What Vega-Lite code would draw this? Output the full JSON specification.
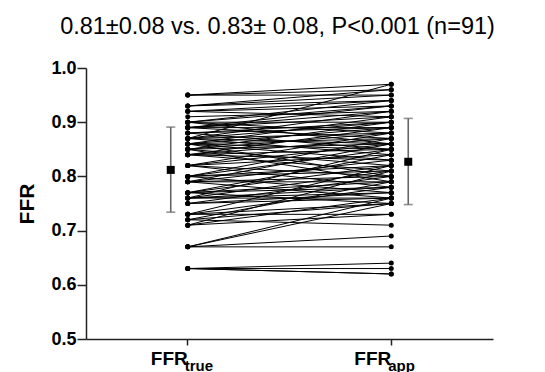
{
  "$schema": "https://vega.github.io/schema/vega-lite/v6.json",
  "autosize": {"type": "none"},
  "width": 407,
  "height": 271,
  "padding": {"left": 86, "top": 68, "right": 52, "bottom": 33},
  "config": {"font": "Liberation Sans", "view": {"stroke": null}},
  "title": {"text": "0.81±0.08 vs. 0.83± 0.08, P<0.001 (n=91)", "fontSize": 23.5, "fontWeight": "normal", "font": "Liberation Sans", "color": "black", "anchor": "middle", "dx": -12, "offset": 21},
  "datasets": {
    "pairs": [
      {"id":1,"group":"FFR_true","ffr":0.95},{"id":1,"group":"FFR_app","ffr":0.97},
      {"id":2,"group":"FFR_true","ffr":0.95},{"id":2,"group":"FFR_app","ffr":0.96},
      {"id":3,"group":"FFR_true","ffr":0.95},{"id":3,"group":"FFR_app","ffr":0.95},
      {"id":4,"group":"FFR_true","ffr":0.93},{"id":4,"group":"FFR_app","ffr":0.95},
      {"id":5,"group":"FFR_true","ffr":0.93},{"id":5,"group":"FFR_app","ffr":0.94},
      {"id":6,"group":"FFR_true","ffr":0.93},{"id":6,"group":"FFR_app","ffr":0.96},
      {"id":7,"group":"FFR_true","ffr":0.92},{"id":7,"group":"FFR_app","ffr":0.93},
      {"id":8,"group":"FFR_true","ffr":0.92},{"id":8,"group":"FFR_app","ffr":0.94},
      {"id":9,"group":"FFR_true","ffr":0.92},{"id":9,"group":"FFR_app","ffr":0.91},
      {"id":10,"group":"FFR_true","ffr":0.91},{"id":10,"group":"FFR_app","ffr":0.92},
      {"id":11,"group":"FFR_true","ffr":0.90},{"id":11,"group":"FFR_app","ffr":0.94},
      {"id":12,"group":"FFR_true","ffr":0.90},{"id":12,"group":"FFR_app","ffr":0.90},
      {"id":13,"group":"FFR_true","ffr":0.90},{"id":13,"group":"FFR_app","ffr":0.88},
      {"id":14,"group":"FFR_true","ffr":0.90},{"id":14,"group":"FFR_app","ffr":0.93},
      {"id":15,"group":"FFR_true","ffr":0.90},{"id":15,"group":"FFR_app","ffr":0.86},
      {"id":16,"group":"FFR_true","ffr":0.89},{"id":16,"group":"FFR_app","ffr":0.91},
      {"id":17,"group":"FFR_true","ffr":0.89},{"id":17,"group":"FFR_app","ffr":0.89},
      {"id":18,"group":"FFR_true","ffr":0.89},{"id":18,"group":"FFR_app","ffr":0.93},
      {"id":19,"group":"FFR_true","ffr":0.89},{"id":19,"group":"FFR_app","ffr":0.87},
      {"id":20,"group":"FFR_true","ffr":0.89},{"id":20,"group":"FFR_app","ffr":0.92},
      {"id":21,"group":"FFR_true","ffr":0.88},{"id":21,"group":"FFR_app","ffr":0.90},
      {"id":22,"group":"FFR_true","ffr":0.88},{"id":22,"group":"FFR_app","ffr":0.85},
      {"id":23,"group":"FFR_true","ffr":0.88},{"id":23,"group":"FFR_app","ffr":0.89},
      {"id":24,"group":"FFR_true","ffr":0.87},{"id":24,"group":"FFR_app","ffr":0.88},
      {"id":25,"group":"FFR_true","ffr":0.87},{"id":25,"group":"FFR_app","ffr":0.92},
      {"id":26,"group":"FFR_true","ffr":0.87},{"id":26,"group":"FFR_app","ffr":0.84},
      {"id":27,"group":"FFR_true","ffr":0.87},{"id":27,"group":"FFR_app","ffr":0.86},
      {"id":28,"group":"FFR_true","ffr":0.87},{"id":28,"group":"FFR_app","ffr":0.90},
      {"id":29,"group":"FFR_true","ffr":0.87},{"id":29,"group":"FFR_app","ffr":0.97},
      {"id":30,"group":"FFR_true","ffr":0.86},{"id":30,"group":"FFR_app","ffr":0.87},
      {"id":31,"group":"FFR_true","ffr":0.86},{"id":31,"group":"FFR_app","ffr":0.89},
      {"id":32,"group":"FFR_true","ffr":0.86},{"id":32,"group":"FFR_app","ffr":0.83},
      {"id":33,"group":"FFR_true","ffr":0.86},{"id":33,"group":"FFR_app","ffr":0.91},
      {"id":34,"group":"FFR_true","ffr":0.86},{"id":34,"group":"FFR_app","ffr":0.85},
      {"id":35,"group":"FFR_true","ffr":0.86},{"id":35,"group":"FFR_app","ffr":0.80},
      {"id":36,"group":"FFR_true","ffr":0.85},{"id":36,"group":"FFR_app","ffr":0.86},
      {"id":37,"group":"FFR_true","ffr":0.85},{"id":37,"group":"FFR_app","ffr":0.88},
      {"id":38,"group":"FFR_true","ffr":0.85},{"id":38,"group":"FFR_app","ffr":0.82},
      {"id":39,"group":"FFR_true","ffr":0.85},{"id":39,"group":"FFR_app","ffr":0.90},
      {"id":40,"group":"FFR_true","ffr":0.85},{"id":40,"group":"FFR_app","ffr":0.79},
      {"id":41,"group":"FFR_true","ffr":0.84},{"id":41,"group":"FFR_app","ffr":0.85},
      {"id":42,"group":"FFR_true","ffr":0.84},{"id":42,"group":"FFR_app","ffr":0.87},
      {"id":43,"group":"FFR_true","ffr":0.84},{"id":43,"group":"FFR_app","ffr":0.81},
      {"id":44,"group":"FFR_true","ffr":0.84},{"id":44,"group":"FFR_app","ffr":0.89},
      {"id":45,"group":"FFR_true","ffr":0.84},{"id":45,"group":"FFR_app","ffr":0.83},
      {"id":46,"group":"FFR_true","ffr":0.82},{"id":46,"group":"FFR_app","ffr":0.84},
      {"id":47,"group":"FFR_true","ffr":0.82},{"id":47,"group":"FFR_app","ffr":0.86},
      {"id":48,"group":"FFR_true","ffr":0.82},{"id":48,"group":"FFR_app","ffr":0.80},
      {"id":49,"group":"FFR_true","ffr":0.82},{"id":49,"group":"FFR_app","ffr":0.88},
      {"id":50,"group":"FFR_true","ffr":0.82},{"id":50,"group":"FFR_app","ffr":0.78},
      {"id":51,"group":"FFR_true","ffr":0.80},{"id":51,"group":"FFR_app","ffr":0.82},
      {"id":52,"group":"FFR_true","ffr":0.80},{"id":52,"group":"FFR_app","ffr":0.85},
      {"id":53,"group":"FFR_true","ffr":0.80},{"id":53,"group":"FFR_app","ffr":0.77},
      {"id":54,"group":"FFR_true","ffr":0.80},{"id":54,"group":"FFR_app","ffr":0.87},
      {"id":55,"group":"FFR_true","ffr":0.80},{"id":55,"group":"FFR_app","ffr":0.81},
      {"id":56,"group":"FFR_true","ffr":0.79},{"id":56,"group":"FFR_app","ffr":0.80},
      {"id":57,"group":"FFR_true","ffr":0.79},{"id":57,"group":"FFR_app","ffr":0.83},
      {"id":58,"group":"FFR_true","ffr":0.79},{"id":58,"group":"FFR_app","ffr":0.76},
      {"id":59,"group":"FFR_true","ffr":0.79},{"id":59,"group":"FFR_app","ffr":0.86},
      {"id":60,"group":"FFR_true","ffr":0.79},{"id":60,"group":"FFR_app","ffr":0.79},
      {"id":61,"group":"FFR_true","ffr":0.77},{"id":61,"group":"FFR_app","ffr":0.79},
      {"id":62,"group":"FFR_true","ffr":0.77},{"id":62,"group":"FFR_app","ffr":0.82},
      {"id":63,"group":"FFR_true","ffr":0.77},{"id":63,"group":"FFR_app","ffr":0.75},
      {"id":64,"group":"FFR_true","ffr":0.77},{"id":64,"group":"FFR_app","ffr":0.84},
      {"id":65,"group":"FFR_true","ffr":0.77},{"id":65,"group":"FFR_app","ffr":0.78},
      {"id":66,"group":"FFR_true","ffr":0.76},{"id":66,"group":"FFR_app","ffr":0.77},
      {"id":67,"group":"FFR_true","ffr":0.76},{"id":67,"group":"FFR_app","ffr":0.81},
      {"id":68,"group":"FFR_true","ffr":0.76},{"id":68,"group":"FFR_app","ffr":0.78},
      {"id":69,"group":"FFR_true","ffr":0.76},{"id":69,"group":"FFR_app","ffr":0.85},
      {"id":70,"group":"FFR_true","ffr":0.76},{"id":70,"group":"FFR_app","ffr":0.76},
      {"id":71,"group":"FFR_true","ffr":0.75},{"id":71,"group":"FFR_app","ffr":0.76},
      {"id":72,"group":"FFR_true","ffr":0.75},{"id":72,"group":"FFR_app","ffr":0.80},
      {"id":73,"group":"FFR_true","ffr":0.75},{"id":73,"group":"FFR_app","ffr":0.77},
      {"id":74,"group":"FFR_true","ffr":0.73},{"id":74,"group":"FFR_app","ffr":0.75},
      {"id":75,"group":"FFR_true","ffr":0.73},{"id":75,"group":"FFR_app","ffr":0.73},
      {"id":76,"group":"FFR_true","ffr":0.73},{"id":76,"group":"FFR_app","ffr":0.78},
      {"id":77,"group":"FFR_true","ffr":0.73},{"id":77,"group":"FFR_app","ffr":0.82},
      {"id":78,"group":"FFR_true","ffr":0.72},{"id":78,"group":"FFR_app","ffr":0.75},
      {"id":79,"group":"FFR_true","ffr":0.72},{"id":79,"group":"FFR_app","ffr":0.71},
      {"id":80,"group":"FFR_true","ffr":0.72},{"id":80,"group":"FFR_app","ffr":0.79},
      {"id":81,"group":"FFR_true","ffr":0.71},{"id":81,"group":"FFR_app","ffr":0.73},
      {"id":82,"group":"FFR_true","ffr":0.71},{"id":82,"group":"FFR_app","ffr":0.76},
      {"id":83,"group":"FFR_true","ffr":0.71},{"id":83,"group":"FFR_app","ffr":0.81},
      {"id":84,"group":"FFR_true","ffr":0.67},{"id":84,"group":"FFR_app","ffr":0.67},
      {"id":85,"group":"FFR_true","ffr":0.67},{"id":85,"group":"FFR_app","ffr":0.69},
      {"id":86,"group":"FFR_true","ffr":0.67},{"id":86,"group":"FFR_app","ffr":0.75},
      {"id":87,"group":"FFR_true","ffr":0.67},{"id":87,"group":"FFR_app","ffr":0.76},
      {"id":88,"group":"FFR_true","ffr":0.63},{"id":88,"group":"FFR_app","ffr":0.64},
      {"id":89,"group":"FFR_true","ffr":0.63},{"id":89,"group":"FFR_app","ffr":0.63},
      {"id":90,"group":"FFR_true","ffr":0.63},{"id":90,"group":"FFR_app","ffr":0.62},
      {"id":91,"group":"FFR_true","ffr":0.63},{"id":91,"group":"FFR_app","ffr":0.62}
    ],
    "summary": [
      {"group":"FFR_true","mean":0.812,"lo":0.734,"hi":0.891},
      {"group":"FFR_app","mean":0.827,"lo":0.748,"hi":0.907}
    ],
    "subs": [
      {"group":"FFR_true","sub":"true"},
      {"group":"FFR_app","sub":"app"}
    ]
  },
  "encoding": {
    "x": {"field": "group", "type": "nominal", "sort": ["FFR_true", "FFR_app"],
      "scale": {"domain": ["FFR_true", "FFR_app"]},
      "axis": {"title": null, "labelExpr": "'FFR'", "labelAngle": 0, "labelAlign": "right", "labelDx": -5,
        "labelFontSize": 19, "labelFontWeight": "bold", "labelColor": "black", "labelPadding": 4,
        "tickSize": 6, "tickColor": "#222", "tickWidth": 1.5, "domainColor": "#222", "domainWidth": 1.5}}
  },
  "layer": [
    {
      "data": {"name": "pairs"},
      "mark": {"type": "line", "color": "black", "strokeWidth": 1},
      "encoding": {
        "y": {"field": "ffr", "type": "quantitative",
          "scale": {"domain": [0.5, 1.0], "nice": false, "zero": false},
          "axis": {"title": "FFR", "titleFontSize": 21, "titleFontWeight": "bold", "titleColor": "black", "titlePadding": 13,
            "values": [0.5, 0.55, 0.6, 0.65, 0.7, 0.75, 0.8, 0.85, 0.9, 0.95, 1.0],
            "labelExpr": "abs(datum.value*10 - round(datum.value*10)) < 0.001 ? format(datum.value, '.1f') : ''",
            "labelFontSize": 18, "labelFontWeight": "bold", "labelColor": "black", "labelPadding": 1,
            "tickSize": {"condition": {"test": "abs(datum.value*10 - round(datum.value*10)) < 0.001", "value": 9}, "value": 5},
            "tickColor": "#222", "tickWidth": 1.5, "domainColor": "#222", "domainWidth": 1.5, "grid": false}},
        "detail": {"field": "id", "type": "nominal"}
      }
    },
    {
      "data": {"name": "pairs"},
      "mark": {"type": "circle", "color": "black", "size": 25, "opacity": 1},
      "encoding": {"y": {"field": "ffr", "type": "quantitative"}}
    },
    {
      "data": {"name": "summary"},
      "transform": [{"filter": "datum.group === 'FFR_true'"}],
      "layer": [
        {"mark": {"type": "rule", "color": "#666", "strokeWidth": 1.6, "xOffset": -17},
         "encoding": {"y": {"field": "lo", "type": "quantitative"}, "y2": {"field": "hi"}}},
        {"mark": {"type": "tick", "orient": "horizontal", "color": "#666", "size": 9, "thickness": 1.6, "xOffset": -17},
         "encoding": {"y": {"field": "lo", "type": "quantitative"}}},
        {"mark": {"type": "tick", "orient": "horizontal", "color": "#666", "size": 9, "thickness": 1.6, "xOffset": -17},
         "encoding": {"y": {"field": "hi", "type": "quantitative"}}},
        {"mark": {"type": "square", "color": "black", "size": 64, "opacity": 1, "xOffset": -17},
         "encoding": {"y": {"field": "mean", "type": "quantitative"}}}
      ]
    },
    {
      "data": {"name": "summary"},
      "transform": [{"filter": "datum.group === 'FFR_app'"}],
      "layer": [
        {"mark": {"type": "rule", "color": "#666", "strokeWidth": 1.6, "xOffset": 17},
         "encoding": {"y": {"field": "lo", "type": "quantitative"}, "y2": {"field": "hi"}}},
        {"mark": {"type": "tick", "orient": "horizontal", "color": "#666", "size": 9, "thickness": 1.6, "xOffset": 17},
         "encoding": {"y": {"field": "lo", "type": "quantitative"}}},
        {"mark": {"type": "tick", "orient": "horizontal", "color": "#666", "size": 9, "thickness": 1.6, "xOffset": 17},
         "encoding": {"y": {"field": "hi", "type": "quantitative"}}},
        {"mark": {"type": "square", "color": "black", "size": 64, "opacity": 1, "xOffset": 17},
         "encoding": {"y": {"field": "mean", "type": "quantitative"}}}
      ]
    },
    {
      "data": {"name": "subs"},
      "mark": {"type": "text", "align": "left", "baseline": "alphabetic", "dx": -3, "dy": 32, "fontSize": 15, "fontWeight": "bold", "color": "black"},
      "encoding": {
        "y": {"datum": 0.5, "type": "quantitative"},
        "text": {"field": "sub"}
      }
    }
  ]
}
